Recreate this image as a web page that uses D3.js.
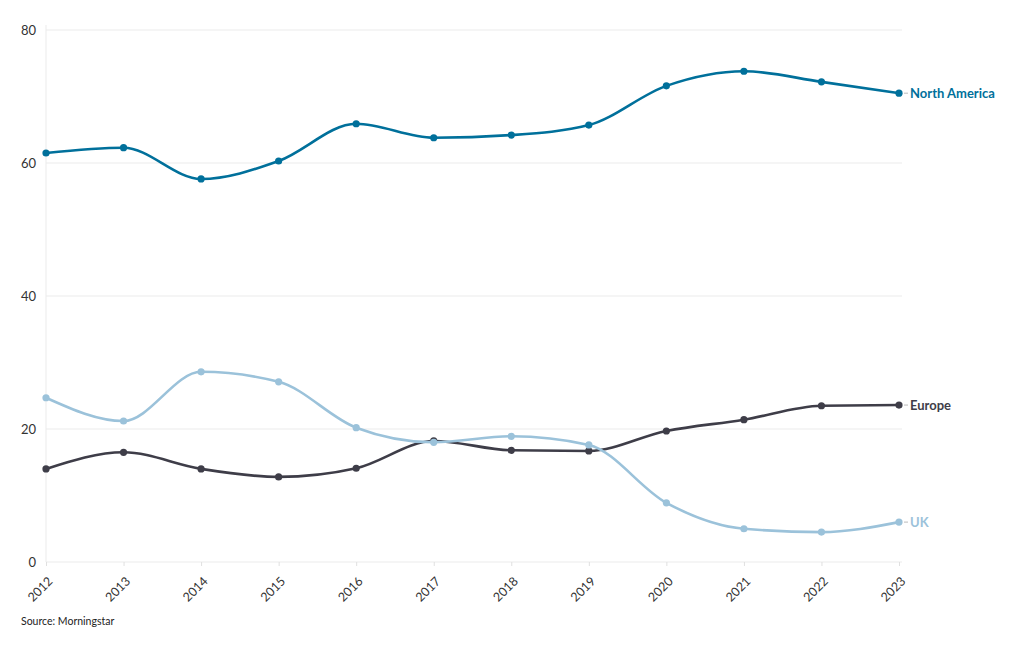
<!DOCTYPE html>
<html><head><meta charset="utf-8">
<script src="https://cdn.jsdelivr.net/npm/d3@7"></script>
<style>
body{margin:0;background:#fff;}
text{font-family:Lato,"Open Sans",sans-serif;}
</style></head>
<body><svg id="c" width="1020" height="650"></svg>
<script>
const years = [2012,2013,2014,2015,2016,2017,2018,2019,2020,2021,2022,2023];
const northAmerica = [61.5,62.3,57.6,60.3,65.9,63.8,64.2,65.7,71.6,73.8,72.2,70.5];
const europe = [14.0,16.5,14.0,12.8,14.1,18.2,16.8,16.7,19.7,21.4,23.5,23.6];
const uk = [24.7,21.2,28.6,27.1,20.2,18.0,18.9,17.6,8.9,5.0,4.5,6.0];
const yTicks = [0,20,40,60,80];
const seriesNames = ["North America","Europe","UK"];
const seriesColors = ["#00709b","#3e3d48","#9bc2da"];
const source = "Source: Morningstar";

const svg = d3.select("#c");
const x = d3.scalePoint().domain(years).range([46,899]);
const y = d3.scaleLinear().domain([0,80]).range([562,30]);

// gridlines
svg.append("g").selectAll("line").data(yTicks).join("line")
  .attr("x1",46).attr("x2",902).attr("y1",d=>y(d)).attr("y2",d=>y(d))
  .attr("stroke","#ebebeb").attr("stroke-width",1);
svg.append("line").attr("x1",46).attr("x2",46).attr("y1",y(80)-5).attr("y2",y(0))
  .attr("stroke","#ebebeb");

// y labels
svg.append("g").selectAll("text").data(yTicks).join("text")
  .attr("x",36).attr("y",d=>y(d)).attr("dy","0.35em").attr("text-anchor","end")
  .attr("font-size",13).attr("fill","#333").text(d=>d);

// x axis
const xg = svg.append("g").attr("transform",`translate(0,${y(0)})`)
  .call(d3.axisBottom(x).tickSize(4).tickSizeOuter(0).tickPadding(0));
xg.select(".domain").remove();
xg.selectAll(".tick line").attr("stroke","#e0e0e0");
xg.selectAll(".tick text").attr("font-size",12.5).attr("fill","#333")
  .attr("font-family","Lato,'Open Sans',sans-serif")
  .attr("text-anchor","end").attr("y",0).attr("dy",0).attr("dx",0)
  .attr("transform","translate(7,20) rotate(-45)");

const data = [northAmerica, europe, uk];
const line = d3.line().x((d,i)=>x(years[i])).y(d=>y(d)).curve(d3.curveMonotoneX);
data.forEach((vals,k)=>{
  const g = svg.append("g");
  g.append("path").attr("d",line(vals)).attr("fill","none")
    .attr("stroke",seriesColors[k]).attr("stroke-width",2.6);
  g.selectAll("circle").data(vals).join("circle")
    .attr("cx",(d,i)=>x(years[i])).attr("cy",d=>y(d)).attr("r",3.6)
    .attr("fill",seriesColors[k]);
  const last = vals[vals.length-1];
  g.append("line").attr("x1",x(2023)+5).attr("x2",x(2023)+9)
    .attr("y1",y(last)).attr("y2",y(last)).attr("stroke","#bbb");
  g.append("text").attr("x",x(2023)+11).attr("y",y(last)).attr("dy","0.35em")
    .attr("font-size",13).attr("font-weight","bold").attr("fill",seriesColors[k])
    .text(seriesNames[k]);
});

svg.append("text").attr("x",21).attr("y",625).attr("font-size",10.5)
  .attr("fill","#222").text(source);
</script></body></html>
